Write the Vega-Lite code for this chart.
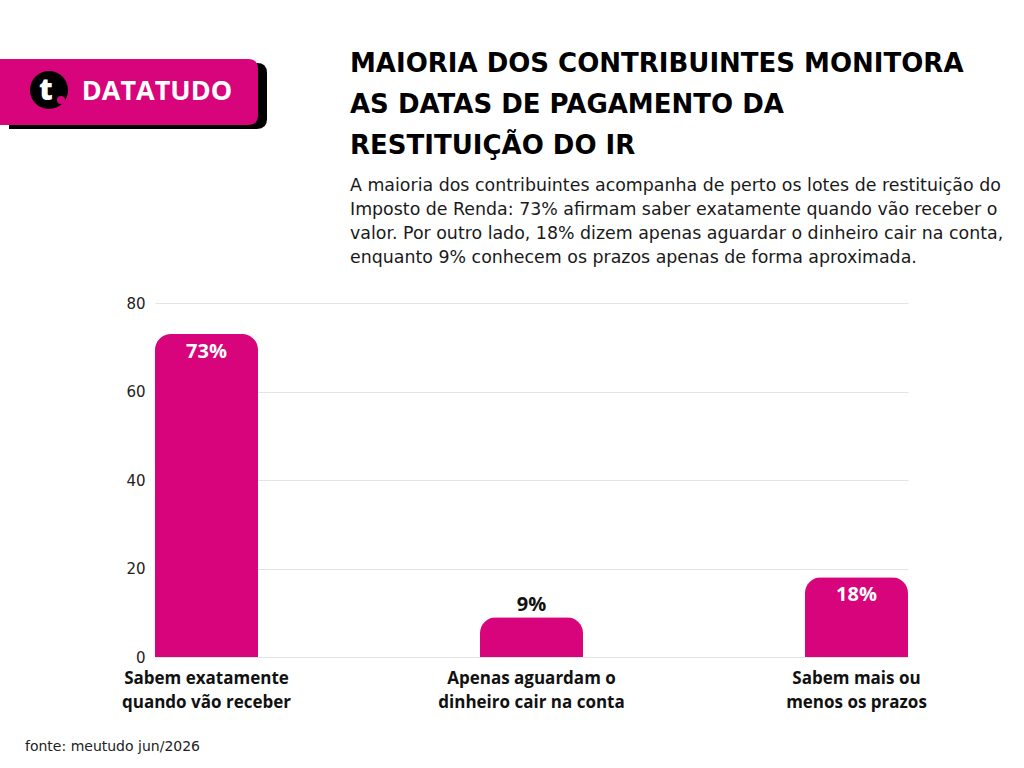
{
  "$schema": "https://vega.github.io/schema/vega-lite/v6.json",
  "background": "white",
  "padding": {"left": 0, "top": 47, "right": 0, "bottom": 0},
  "config": {"view": {"stroke": null}, "font": "DejaVu Sans"},
  "spacing": 29,
  "vconcat": [
    {
      "spacing": 0,
      "hconcat": [
        {
          "width": 195,
          "height": 66,
          "data": {"values": [{"marca": "DATATUDO", "icone": "t"}]},
          "layer": [
            {"mark": {"type": "point", "shape": "M -1 -0.2558 L 0.9225 -0.2558 Q 1 -0.2558 1 -0.1783 L 1 0.1783 Q 1 0.2558 0.9225 0.2558 L -1 0.2558 Z", "filled": true, "color": "#000000", "opacity": 1, "strokeWidth": 0, "size": 66564, "xOffset": -114.5, "yOffset": 16}, "encoding": {}},
            {"mark": {"type": "point", "shape": "M -1 -0.2558 L 0.9225 -0.2558 Q 1 -0.2558 1 -0.1783 L 1 0.1783 Q 1 0.2558 0.9225 0.2558 L -1 0.2558 Z", "filled": true, "color": "#d8047b", "opacity": 1, "strokeWidth": 0, "size": 66564, "xOffset": -123.5, "yOffset": 12}, "encoding": {}},
            {"mark": {"type": "point", "shape": "circle", "filled": true, "color": "#000000", "opacity": 1, "size": 1450, "xOffset": -203.5, "yOffset": 10}, "encoding": {}},
            {"mark": {"type": "text", "color": "white", "font": "Open Sans", "fontWeight": 800, "fontSize": 30, "baseline": "alphabetic", "align": "center", "dx": -206.5, "dy": 20}, "encoding": {"text": {"field": "icone"}}},
            {"mark": {"type": "point", "shape": "circle", "filled": true, "color": "#d8047b", "opacity": 1, "size": 64, "xOffset": -191.5, "yOffset": 20}, "encoding": {}},
            {"mark": {"type": "text", "color": "white", "font": "Open Sans", "fontWeight": 700, "fontSize": 27, "baseline": "middle", "align": "center", "dx": -95.5, "dy": 12}, "encoding": {"text": {"field": "marca"}}}
          ]
        },
        {
          "width": 620,
          "height": 1,
          "data": {"values": [{}]},
          "mark": {"type": "rect", "opacity": 0},
          "title": {
            "text": ["MAIORIA DOS CONTRIBUINTES MONITORA", "AS DATAS DE PAGAMENTO DA", "RESTITUIÇÃO DO IR"],
            "subtitle": ["A maioria dos contribuintes acompanha de perto os lotes de restituição do", "Imposto de Renda: 73% afirmam saber exatamente quando vão receber o", "valor. Por outro lado, 18% dizem apenas aguardar o dinheiro cair na conta,", "enquanto 9% conhecem os prazos apenas de forma aproximada."],
            "anchor": "start",
            "frame": "group",
            "orient": "bottom",
            "font": "DejaVu Sans",
            "fontSize": 26,
            "fontWeight": "bold",
            "color": "#000000",
            "lineHeight": 41,
            "subtitleFont": "DejaVu Sans",
            "subtitleFontSize": 17.4,
            "subtitleColor": "#1a1a1a",
            "subtitleLineHeight": 24,
            "subtitlePadding": 18,
            "offset": 3
          }
        }
      ]
    },
    {
      "width": 753,
      "height": 354,
      "data": {
        "values": [
          {"categoria": "Sabem exatamente quando vão receber", "percentual": 73, "rotulo": "73%"},
          {"categoria": "Apenas aguardam o dinheiro cair na conta", "percentual": 9, "rotulo": "9%"},
          {"categoria": "Sabem mais ou menos os prazos", "percentual": 18, "rotulo": "18%"}
        ]
      },
      "title": {
        "text": "fonte: meutudo jun/2026",
        "orient": "bottom",
        "anchor": "start",
        "frame": "group",
        "dx": -130,
        "offset": 30,
        "font": "DejaVu Sans",
        "fontSize": 14,
        "fontWeight": "normal",
        "color": "#222222"
      },
      "encoding": {
        "x": {
          "field": "categoria",
          "type": "nominal",
          "sort": null,
          "title": null,
          "scale": {"paddingInner": 0.683, "paddingOuter": 0},
          "axis": {
            "labelAngle": 0,
            "domain": false,
            "ticks": false,
            "labelPadding": 13,
            "labelFont": "Open Sans",
            "labelFontSize": 17,
            "labelFontWeight": 700,
            "labelColor": "#111111",
            "labelLineHeight": 24,
            "labelBaseline": "top",
            "labelLimit": 400,
            "labelExpr": "datum.value == 'Sabem exatamente quando vão receber' ? ['Sabem exatamente', 'quando vão receber'] : datum.value == 'Apenas aguardam o dinheiro cair na conta' ? ['Apenas aguardam o', 'dinheiro cair na conta'] : ['Sabem mais ou', 'menos os prazos']"
          }
        },
        "y": {
          "field": "percentual",
          "type": "quantitative",
          "title": null,
          "scale": {"domain": [0, 80]},
          "axis": {
            "values": [0, 20, 40, 60, 80],
            "grid": true,
            "gridColor": "#e3e3e3",
            "domain": false,
            "ticks": false,
            "labelPadding": 10,
            "labelFont": "DejaVu Sans",
            "labelFontSize": 15,
            "labelColor": "#222222",
            "minExtent": 155
          }
        }
      },
      "layer": [
        {"mark": {"type": "bar", "color": "#d8047b", "cornerRadiusTopLeft": 16, "cornerRadiusTopRight": 16}},
        {
          "transform": [{"filter": "datum.percentual >= 10"}],
          "mark": {"type": "text", "baseline": "middle", "dy": 18, "font": "Open Sans", "fontSize": 20, "fontWeight": 700, "color": "white"},
          "encoding": {"text": {"field": "rotulo"}}
        },
        {
          "transform": [{"filter": "datum.percentual < 10"}],
          "mark": {"type": "text", "baseline": "middle", "dy": -12, "font": "Open Sans", "fontSize": 20, "fontWeight": 700, "color": "#111111"},
          "encoding": {"text": {"field": "rotulo"}}
        }
      ]
    }
  ]
}
